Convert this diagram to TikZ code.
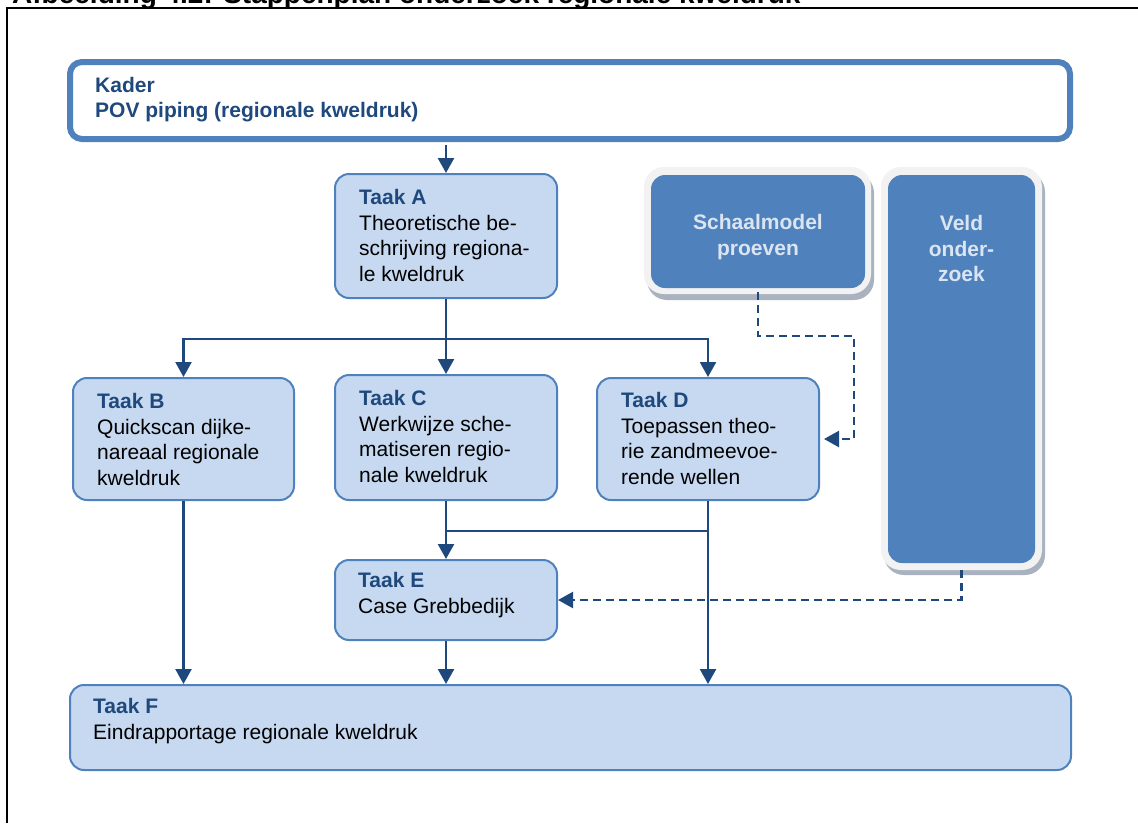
\documentclass[tikz,border=0pt]{standalone}
\usepackage{fontspec}
\setmainfont{Liberation Sans}
\usetikzlibrary{arrows.meta,calc}
\definecolor{dkblue}{HTML}{1F497D}
\definecolor{boxedge}{HTML}{4F81BD}
\definecolor{boxfill}{HTML}{C6D9F1}
\definecolor{lighttext}{HTML}{DBE5F1}
\definecolor{framegray}{HTML}{F2F2F2}
\definecolor{shadowcol}{HTML}{A9B2BF}
\newcommand\tk[1]{\textcolor{dkblue}{\bfseries #1}}
\begin{document}
\begin{tikzpicture}[x=1pt,y=-1pt,
  taak/.style={draw=boxedge, line width=2pt, fill=boxfill, rounded corners=14pt, inner sep=0pt},
  kader/.style={draw=boxedge, line width=6pt, fill=white, rounded corners=12pt, inner sep=0pt},
  grayframe/.style={fill=framegray, rounded corners=20pt, inner sep=0pt},
  shadowbox/.style={fill=shadowcol, rounded corners=20pt, inner sep=0pt},
  bluebox/.style={fill=boxedge, rounded corners=14pt, inner sep=0pt},
  txt/.style={font=\fontsize{21}{25.6}\selectfont, inner sep=0pt, anchor=north west, align=left},
  wtxt/.style={font=\bfseries\fontsize{21}{25.6}\selectfont, text=lighttext, inner sep=0pt, anchor=north, align=center},
  cline/.style={draw=dkblue, line width=2.4pt},
  conn/.style={cline, -{Triangle[width=16pt,length=15pt]}},
  dconn/.style={draw=dkblue, line width=2.3pt, dash pattern=on 8pt off 5pt, -{Triangle[width=16pt,length=15pt]}},
]
\useasboundingbox (0,0) rectangle (1138,823);
\clip (0,0) rectangle (1138,823);
\fill[white] (0,0) rectangle (1138,823);

% title (cut off at top) and frame
\node[anchor=base west, inner sep=0pt, font=\bfseries\fontsize{28}{28}\selectfont] (title) at (12,3.5) {Afbeelding 4.2: Stappenplan onderzoek regionale kweldruk};
\draw[line width=1.5pt] (7,823) -- (7,8) -- (1138,8);

% Kader
\node[kader, minimum width=1000pt, minimum height=77pt] (K) at (570,100.5) {};
\node[txt, text=dkblue, font=\bfseries\fontsize{21}{25}\selectfont] (Kt) at (95,77) {Kader\\POV piping (regionale kweldruk)};

% Schaalmodel and Veld
\node[shadowbox, minimum width=227pt, minimum height=127pt] (Ssh) at (760.5,236.5) {};
\node[grayframe, minimum width=227pt, minimum height=127pt] (Sfr) at (757.5,230.5) {};
\node[bluebox, minimum width=214pt, minimum height=113pt] (S) at (758,231.5) {};
\node[wtxt] (St) at (758,214) {Schaalmodel\\proeven};

\node[shadowbox, minimum width=161pt, minimum height=403pt] (Vsh) at (964.5,373.5) {};
\node[grayframe, minimum width=161pt, minimum height=403pt] (Vfr) at (961.5,368.5) {};
\node[bluebox, minimum width=147pt, minimum height=388pt] (V) at (961.5,369) {};
\node[wtxt] (Vt) at (961.5,215) {Veld\\onder-\\zoek};

% Taken
\node[taak, minimum width=222pt, minimum height=124pt] (A) at (446,236) {};
\node[txt] (At) at (359,189) {\tk{Taak A}\\Theoretische be-\\schrijving regiona-\\le kweldruk};

\node[taak, minimum width=221pt, minimum height=122pt] (B) at (183.5,439) {};
\node[txt] (Bt) at (97,393) {\tk{Taak B}\\Quickscan dijke-\\nareaal regionale\\kweldruk};

\node[taak, minimum width=222pt, minimum height=125pt] (C) at (446,437.5) {};
\node[txt] (Ct) at (359,390) {\tk{Taak C}\\Werkwijze sche-\\matiseren regio-\\nale kweldruk};

\node[taak, minimum width=222pt, minimum height=122pt] (D) at (708,439) {};
\node[txt] (Dt) at (621,392) {\tk{Taak D}\\Toepassen theo-\\rie zandmeevoe-\\rende wellen};

\node[taak, minimum width=222pt, minimum height=80pt] (E) at (446,600) {};
\node[txt] (Et) at (358,572) {\tk{Taak E}\\Case Grebbedijk};

\node[taak, minimum width=1001pt, minimum height=85pt] (F) at (570.5,727.5) {};
\node[txt] (Ft) at (93,698) {\tk{Taak F}\\Eindrapportage regionale kweldruk};

% connectors
\draw[conn, shorten <=3pt] (K.south -| A.north) -- (A.north);
\coordinate (split) at ($(A.south)+(0,40)$);
\draw[conn] (A.south) -- (C.north);
\draw[conn] (split) -| (B.north);
\draw[conn] (split) -| (D.north);

\coordinate (join) at ($(C.south)+(0,30)$);
\draw[conn] (C.south) -- (E.north);
\draw[cline] (join) -- (join -| D.south);
\draw[conn] (D.south) -- (D.south |- F.north);
\draw[conn] (B.south) -- (B.south |- F.north);
\draw[conn] (E.south) -- (E.south |- F.north);

\coordinate (sturn) at (854,336);
\draw[dconn, shorten <=4pt, shorten >=4pt] (S.south) |- (sturn) |- (D.east);
\draw[dconn, shorten <=7pt] (V.south) |- (E.east);
\end{tikzpicture}
\end{document}
